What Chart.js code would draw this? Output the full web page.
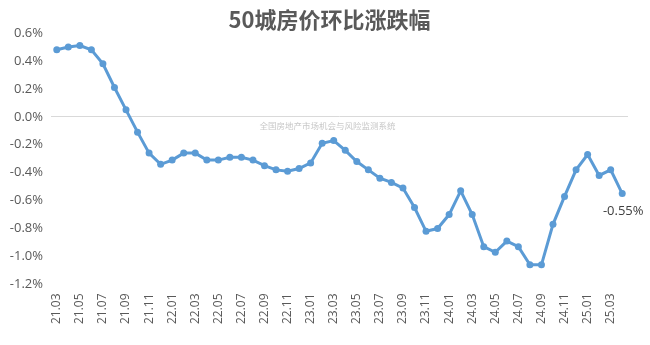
<!DOCTYPE html>
<html>
<head>
<meta charset="utf-8">
<script src="https://cdn.jsdelivr.net/npm/chart.js@4/dist/chart.umd.min.js"></script>
<style>
html,body{margin:0;padding:0;background:#fff;}
#wrap{width:650px;height:345px;position:relative;}
</style>
</head>
<body>
<div id="wrap"><canvas id="c"></canvas></div>
<script>
const months = ["21.03","21.04","21.05","21.06","21.07","21.08","21.09","21.10","21.11","21.12",
"22.01","22.02","22.03","22.04","22.05","22.06","22.07","22.08","22.09","22.10","22.11","22.12",
"23.01","23.02","23.03","23.04","23.05","23.06","23.07","23.08","23.09","23.10","23.11","23.12",
"24.01","24.02","24.03","24.04","24.05","24.06","24.07","24.08","24.09","24.10","24.11","24.12",
"25.01","25.02","25.03","25.04"];
const changePct = [0.48,0.50,0.51,0.48,0.38,0.21,0.05,-0.11,-0.26,-0.34,
-0.31,-0.26,-0.26,-0.31,-0.31,-0.29,-0.29,-0.31,-0.35,-0.38,-0.39,-0.37,
-0.33,-0.19,-0.17,-0.24,-0.32,-0.38,-0.44,-0.47,-0.51,-0.65,-0.82,-0.80,
-0.70,-0.53,-0.70,-0.93,-0.97,-0.89,-0.93,-1.06,-1.06,-0.77,-0.57,-0.38,
-0.27,-0.42,-0.38,-0.55];
const yTicks = [0.6,0.4,0.2,0.0,-0.2,-0.4,-0.6,-0.8,-1.0,-1.2];
const titleText = "50城房价环比涨跌幅";
const watermark = "全国房地产市场机会与风险监测系统";
const lastLabel = "-0.55%";

const FONT = "'Open Sans','Noto Sans CJK SC',sans-serif";

const extras = {
  id:'extras',
  afterDraw(chart){
    const ctx = chart.ctx;
    const xs = chart.scales.x, ys = chart.scales.y;
    ctx.save();
    // title
    ctx.font = "bold 22px 'Noto Sans CJK SC'";
    ctx.fillStyle = '#595959';
    ctx.textAlign = 'center';
    ctx.textBaseline = 'middle';
    ctx.fillText(titleText, (xs.left + xs.right)/2 - 10, 20);
    // watermark
    ctx.font = "8.5px 'Noto Sans CJK SC'";
    ctx.fillStyle = '#c8c8c8';
    ctx.fillText(watermark, (xs.left + xs.right)/2 - 12, ys.getPixelForValue(0) + 9);
    // last point label
    const i = changePct.length - 1;
    const px = xs.getPixelForValue(i);
    const py = ys.getPixelForValue(changePct[i]);
    ctx.font = "13px " + FONT;
    ctx.fillStyle = '#404040';
    ctx.fillText(lastLabel, px + 1, py + 18);
    ctx.restore();
  }
};

new Chart(document.getElementById('c'), {
  type:'line',
  data:{
    labels: months,
    datasets:[{
      data: changePct,
      borderColor:'#5b9bd5',
      backgroundColor:'#5b9bd5',
      borderWidth:3,
      pointRadius:3.5,
      pointBackgroundColor:'#5b9bd5',
      pointBorderColor:'#5b9bd5',
      pointBorderWidth:0,
      tension:0,
      fill:false
    }]
  },
  options:{
    responsive:true,
    maintainAspectRatio:false,
    animation:false,
    layout:{padding:{left:0,right:22,top:33,bottom:12}},
    plugins:{
      legend:{display:false},
      tooltip:{enabled:false},
      title:{display:false}
    },
    scales:{
      x:{
        offset:true,
        grid:{display:false,drawTicks:false},
        border:{display:false},
        ticks:{
          autoSkip:false,
          minRotation:90,
          maxRotation:90,
          padding:9,
          color:'#595959',
          font:{family:FONT,size:12},
          callback:function(v,i){ return i % 2 === 0 ? months[i] : ''; }
        }
      },
      y:{
        min:-1.2,
        max:0.6,
        afterFit(s){ s.width = 51; },
        afterBuildTicks(s){ s.ticks = yTicks.map(v=>({value:v})); },
        grid:{
          drawTicks:false,
          color:(c)=> (c.tick && Math.abs(c.tick.value) < 1e-9) ? '#d9d9d9' : 'rgba(0,0,0,0)',
          lineWidth:1
        },
        border:{display:false},
        ticks:{
          padding:8,
          color:'#595959',
          font:{family:FONT,size:13},
          callback:(v)=> v.toFixed(1) + '%'
        }
      }
    }
  },
  plugins:[extras]
});
</script>
</body>
</html>
